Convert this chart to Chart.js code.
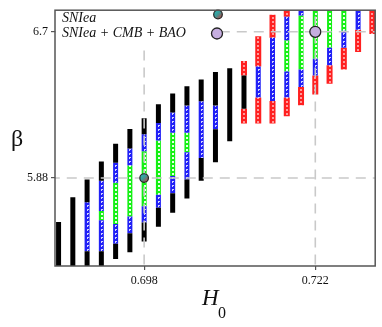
<!DOCTYPE html>
<html>
<head>
<meta charset="utf-8">
<script src="https://cdn.jsdelivr.net/npm/chart.js@4"></script>
<style>
  body { margin: 0; background: #fff; }
  #wrap { width: 382px; height: 327px; }
</style>
</head>
<body>
<div id="wrap"><canvas id="betaChart" width="382" height="327"></canvas></div>
<script>
// H0 grid (one column per value)
const h0Values = [0.686, 0.688, 0.690, 0.692, 0.694, 0.696, 0.698, 0.700, 0.702, 0.704, 0.706, 0.708,
                  0.710, 0.712, 0.714, 0.716, 0.718, 0.720, 0.722, 0.724, 0.726, 0.728, 0.730];

// beta ranges [low, high] of each colored segment, per column (null = none)
const blackLower = [[5.30, 5.634], [5.30, 5.773], [5.30, 5.470], [5.30, 5.470], [5.426, 5.512], [5.464, 5.570],
                    [5.525, 5.631], [5.607, 5.713], [5.686, 5.795], [5.765, 5.872], [5.865, 5.993], [5.968, 6.153],
                    [6.087, 6.495], [6.268, 6.455], null, null, null, null, null, null, null, null, null];
const blueLower = [null, null, [5.470, 5.744], [5.470, 5.644], [5.512, 5.623], [5.570, 5.664],
                   [5.631, 5.722], [5.713, 5.787], [5.795, 5.891], [5.872, 6.025], [5.993, 6.310], [6.153, 6.287],
                   null, null, [6.331, 6.506], [6.312, 6.666], [6.331, 6.477], [6.391, 6.489], [6.455, 6.549],
                   [6.513, 6.611], [6.611, 6.706], [6.711, 6.90], null];
const greenMid = [null, null, null, [5.644, 5.695], [5.623, 5.854], [5.664, 5.951],
                  [5.722, 6.030], [5.787, 6.090], [5.891, 6.134], [6.025, 6.134], null, null,
                  null, null, null, null, [6.477, 6.653], [6.489, 6.791], [6.549, 6.90],
                  [6.611, 6.90], [6.706, 6.90], null, null];
const blueUpper = [null, null, null, [5.695, 5.865], [5.854, 5.966], [5.951, 6.046],
                   [6.030, 6.125], [6.090, 6.188], [6.134, 6.248], [6.134, 6.287], null, null,
                   null, null, null, null, [6.653, 6.784], [6.791, 6.90], null, null, null, null, null];
const blackUpper = [null, null, [5.744, 5.872], [5.865, 5.973], [5.966, 6.072], [6.046, 6.155],
                    [6.125, 6.215], [6.188, 6.294], [6.248, 6.354], [6.287, 6.394], [6.310, 6.433], [6.287, 6.475],
                    null, null, null, null, null, null, null, null, null, null, null];
const redLower = [null, null, null, null, null, null, null, null, null, null, null, null,
                  null, [6.186, 6.268], [6.186, 6.331], [6.186, 6.312], [6.226, 6.331], [6.288, 6.391],
                  [6.349, 6.455], [6.409, 6.513], [6.488, 6.611], [6.587, 6.711], [6.688, 6.90]];
const redUpper = [null, null, null, null, null, null, null, null, null, null, null, null,
                  null, [6.455, 6.536], [6.506, 6.675], [6.666, 6.795], [6.784, 6.90], null,
                  null, null, null, null, null];

// best fit points
const snPoint = { x: 0.698, y: 5.88 };
const jointPoint = { x: 0.722, y: 6.7 };

const xTickValues = [0.698, 0.722];
const xTickLabels = ['0.698', '0.722'];
const yTickValues = [5.88, 6.7];
const yTickLabels = ['5.88', '6.7'];
const legendLabels = ['SNIea', 'SNIea + CMB + BAO'];

const X_MIN = 0.6855, X_MAX = 0.7304, Y_MIN = 5.387, Y_MAX = 6.821;

// small pattern tiles for the hatched segments
const tiles = {};
function getTile(kind) {
    if (tiles[kind]) return tiles[kind];
    const c = document.createElement('canvas');
    const g = c.getContext('2d');
    if (kind === 'blue') {
        c.width = 5; c.height = 4;
        g.fillStyle = '#2020f6'; g.fillRect(0, 0, 5, 4);
        g.fillStyle = 'rgba(255,255,255,0.8)';
        g.fillRect(2, 1, 2, 1); g.fillRect(2, 2, 1, 1);
    } else if (kind === 'green') {
        c.width = 5; c.height = 4;
        g.fillStyle = '#14f014'; g.fillRect(0, 0, 5, 4);
        g.fillStyle = 'rgba(255,255,255,0.9)'; g.fillRect(2, 1, 2, 2);
    } else {
        c.width = 6; c.height = 4;
        g.fillStyle = '#ff2020'; g.fillRect(0, 0, 6, 4);
        g.fillStyle = '#ff9a9a'; g.fillRect(2, 1, 2, 2);
    }
    tiles[kind] = c;
    return c;
}

function patternFill(kind, width, fallback) {
    return function (ctx) {
        if (!ctx.raw || !ctx.chart.scales.x) return fallback;
        const px = ctx.chart.scales.x.getPixelForValue(ctx.raw.x);
        if (!isFinite(px)) return fallback;
        const pat = ctx.chart.ctx.createPattern(getTile(kind), 'repeat');
        pat.setTransform(new DOMMatrix().translate(Math.round(px - width / 2), 0));
        return pat;
    };
}

function toBars(ranges) {
    return h0Values.map((h, i) => ranges[i] ? { x: h, y: ranges[i] } : null).filter(d => d);
}

function barSet(ranges, fill, width) {
    return {
        type: 'bar',
        data: toBars(ranges),
        backgroundColor: fill,
        borderWidth: 0,
        inflateAmount: 0,
        barThickness: width,
        maxBarThickness: width,
        grouped: false,
        order: 3
    };
}

function dashed(points) {
    return {
        type: 'line',
        data: points,
        borderColor: '#c9c9c9',
        borderWidth: 1.6,
        borderDash: [10, 7],
        pointRadius: 0,
        fill: false,
        order: 2
    };
}

function tealGradient(g, x, y, r) {
    const grad = g.createLinearGradient(x - r, y - r, x + r, y + r);
    grad.addColorStop(0, '#2fc0b8');
    grad.addColorStop(0.45, '#3a9a9a');
    grad.addColorStop(1, '#d8342c');
    return grad;
}

const frameAndLabels = {
    id: 'frameAndLabels',
    afterDatasetsDraw(chart) {
        const g = chart.ctx;
        const a = chart.chartArea;
        g.save();
        // legend box
        g.fillStyle = '#fff';
        g.fillRect(a.left + 1, a.top + 1, 166, 35);
        g.fillStyle = '#111';
        g.font = 'italic 14px "Liberation Serif"';
        g.textBaseline = 'alphabetic';
        g.textAlign = 'left';
        g.fillText(legendLabels[0], 62, 22);
        g.fillText(legendLabels[1], 62, 37);
        // legend markers
        g.beginPath(); g.arc(218, 14.5, 4.3, 0, Math.PI * 2);
        g.fillStyle = tealGradient(g, 218, 14.5, 4.3); g.fill();
        g.lineWidth = 1.2; g.strokeStyle = '#222'; g.stroke();
        g.beginPath(); g.arc(217, 33.5, 5.5, 0, Math.PI * 2);
        g.fillStyle = '#c6aee0'; g.fill();
        g.lineWidth = 1.3; g.strokeStyle = '#222'; g.stroke();
        // frame
        g.strokeStyle = '#555';
        g.lineWidth = 1.5;
        g.strokeRect(a.left, a.top, a.right - a.left, a.bottom - a.top);
        // axis titles
        g.fillStyle = '#111';
        g.font = '24px "Liberation Serif"';
        g.textAlign = 'center';
        g.fillText('\u03b2', 17, 146);
        g.textAlign = 'left';
        g.font = 'italic 23px "Liberation Serif"';
        g.fillText('H', 202, 305);
        g.font = '16px "Liberation Serif"';
        g.fillText('0', 218, 318);
        g.restore();
    }
};

const datasets = [
    barSet(blackLower, '#000', 5),
    barSet(blackUpper, '#000', 5),
    barSet(blueLower, patternFill('blue', 5, '#2020f6'), 5),
    barSet(blueUpper, patternFill('blue', 5, '#2020f6'), 5),
    barSet(greenMid, patternFill('green', 5, '#14f014'), 5),
    barSet(redLower, patternFill('red', 6, '#ff2020'), 6),
    barSet(redUpper, patternFill('red', 6, '#ff2020'), 6),
    dashed([{ x: snPoint.x, y: 5.3 }, { x: snPoint.x, y: 6.9 }]),
    dashed([{ x: 0.68, y: snPoint.y }, { x: 0.74, y: snPoint.y }]),
    dashed([{ x: jointPoint.x, y: 5.3 }, { x: jointPoint.x, y: 6.9 }]),
    dashed([{ x: 0.68, y: jointPoint.y }, { x: 0.74, y: jointPoint.y }]),
    {
        type: 'line',
        data: [snPoint],
        showLine: false,
        pointRadius: 4.3,
        pointBorderWidth: 1.2,
        pointBorderColor: '#222',
        pointBackgroundColor: function (ctx) {
            if (!ctx.raw || !ctx.chart.scales.x || !ctx.chart.scales.y) return '#3a9a9a';
            const x = ctx.chart.scales.x.getPixelForValue(ctx.raw.x);
            const y = ctx.chart.scales.y.getPixelForValue(ctx.raw.y);
            if (!isFinite(x) || !isFinite(y)) return '#3a9a9a';
            return tealGradient(ctx.chart.ctx, x, y, 4.3);
        },
        clip: false,
        order: 0
    },
    {
        type: 'line',
        data: [jointPoint],
        showLine: false,
        pointRadius: 5.5,
        pointBorderWidth: 1.3,
        pointBorderColor: '#222',
        pointBackgroundColor: '#c6aee0',
        clip: false,
        order: 0
    }
];

new Chart(document.getElementById('betaChart'), {
    type: 'bar',
    data: { datasets: datasets },
    plugins: [frameAndLabels],
    options: {
        responsive: false,
        animation: false,
        layout: { padding: { top: 5, right: 6, left: 0, bottom: 0 } },
        plugins: { legend: { display: false }, tooltip: { enabled: false } },
        scales: {
            x: {
                type: 'linear',
                min: X_MIN,
                max: X_MAX,
                offset: false,
                afterFit: s => { s.height = 61; },
                afterBuildTicks: s => { s.ticks = xTickValues.map(v => ({ value: v })); },
                border: { display: false },
                grid: { display: true, offset: false, drawOnChartArea: false, drawTicks: true, tickLength: 4, color: '#555', lineWidth: 1.2 },
                ticks: {
                    padding: 4,
                    maxRotation: 0,
                    color: '#111',
                    font: { family: 'Liberation Serif', size: 12 },
                    callback: v => xTickLabels[xTickValues.indexOf(v)]
                }
            },
            y: {
                type: 'linear',
                min: Y_MIN,
                max: Y_MAX,
                afterFit: s => { s.width = 55; },
                afterBuildTicks: s => { s.ticks = yTickValues.map(v => ({ value: v })); },
                border: { display: false },
                grid: { display: true, drawOnChartArea: false, drawTicks: true, tickLength: 4, color: '#555', lineWidth: 1.2 },
                ticks: {
                    padding: 3,
                    color: '#111',
                    font: { family: 'Liberation Serif', size: 12 },
                    callback: v => yTickLabels[yTickValues.indexOf(v)]
                }
            }
        }
    }
});
</script>
</body>
</html>
